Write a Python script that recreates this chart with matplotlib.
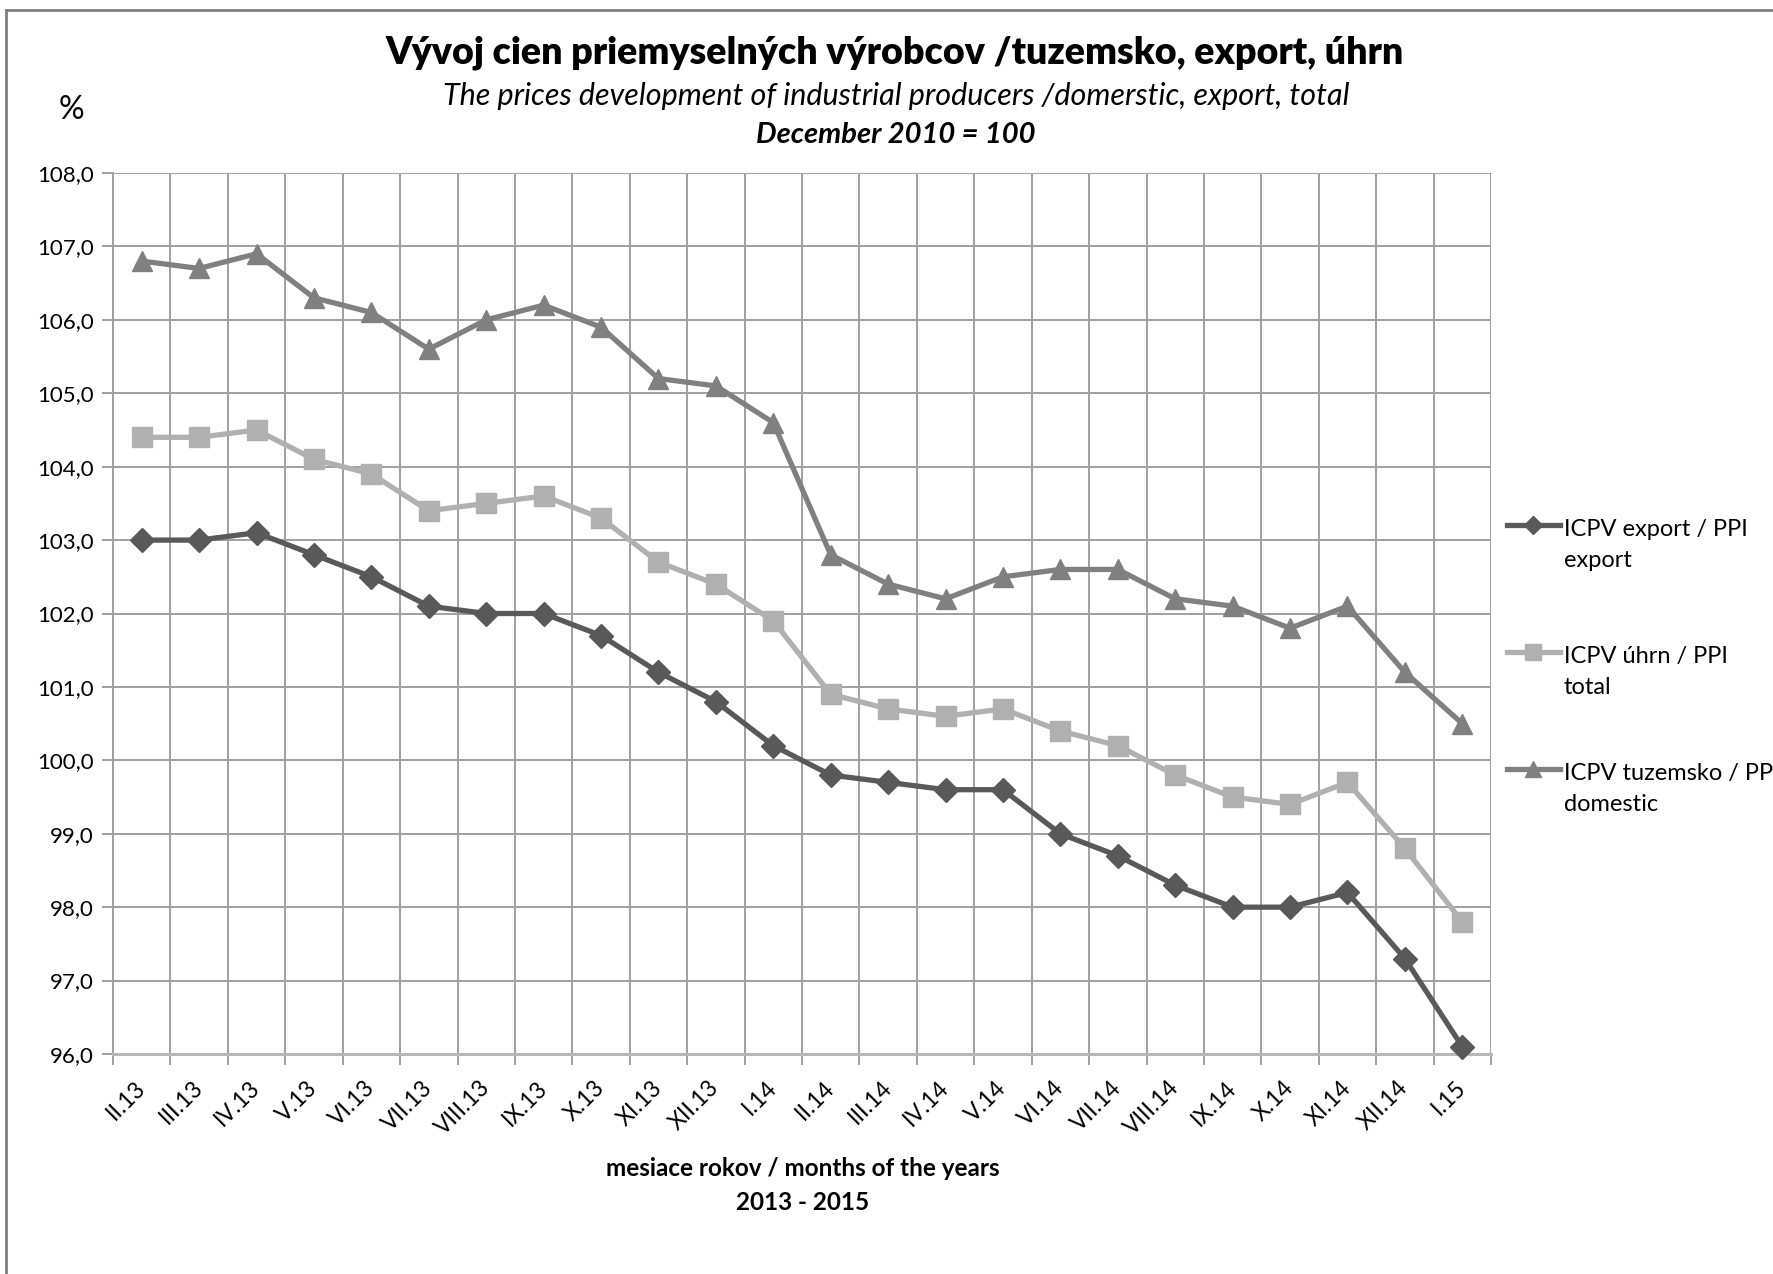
#!/usr/bin/env python3
"""Industrial producer prices, domestic / export / total (Dec 2010 = 100)."""

import matplotlib

matplotlib.use("Agg")
from matplotlib import pyplot as plt
from matplotlib.lines import Line2D
from matplotlib.ticker import FixedLocator, FuncFormatter

months = [
    "II.13", "III.13", "IV.13", "V.13", "VI.13", "VII.13", "VIII.13",
    "IX.13", "X.13", "XI.13", "XII.13", "I.14", "II.14", "III.14",
    "IV.14", "V.14", "VI.14", "VII.14", "VIII.14", "IX.14", "X.14",
    "XI.14", "XII.14", "I.15",
]
export = [
    103.0, 103.0, 103.1, 102.8, 102.5, 102.1, 102.0, 102.0, 101.7, 101.2,
    100.8, 100.2, 99.8, 99.7, 99.6, 99.6, 99.0, 98.7, 98.3, 98.0,
    98.0, 98.2, 97.3, 96.1,
]
total = [
    104.4, 104.4, 104.5, 104.1, 103.9, 103.4, 103.5, 103.6, 103.3, 102.7,
    102.4, 101.9, 100.9, 100.7, 100.6, 100.7, 100.4, 100.2, 99.8, 99.5,
    99.4, 99.7, 98.8, 97.8,
]
domestic = [
    106.8, 106.7, 106.9, 106.3, 106.1, 105.6, 106.0, 106.2, 105.9, 105.2,
    105.1, 104.6, 102.8, 102.4, 102.2, 102.5, 102.6, 102.6, 102.2, 102.1,
    101.8, 102.1, 101.2, 100.5,
]
series_labels = [
    "ICPV export / PPI\nexport",
    "ICPV úhrn / PPI\ntotal",
    "ICPV tuzemsko / PPI\ndomestic",
]

FONT = ["Lato", "DejaVu Sans"]
plt.rcParams["font.family"] = FONT

W, H = 1773, 1274
fig = plt.figure(figsize=(W / 100, H / 100), dpi=100)


def fx(px):
    return px / W


def fy(py):
    return 1 - py / H


ax = fig.add_axes([fx(113), fy(1054), fx(1491) - fx(113), fy(173) - fy(1054)])

styles = [
    (export, "#595959", "D", 12),
    (total, "#b0b0b0", "s", 14),
    (domestic, "#808080", "^", 15),
]
x = [i + 0.5 for i in range(len(months))]
for values, color, marker, size in styles:
    ax.plot(x, values, color=color, lw=3.8, marker=marker, ms=size,
            mec=color, mfc=color, zorder=3, clip_on=False)

ax.set_xlim(0, len(months))
ax.set_ylim(96, 108)
ax.yaxis.set_major_locator(FixedLocator(range(96, 109)))
ax.yaxis.set_major_formatter(FuncFormatter(lambda v, _: f"{v:.1f}".replace(".", ",")))
ax.xaxis.set_major_locator(FixedLocator(range(len(months) + 1)))
ax.xaxis.set_major_formatter(FuncFormatter(lambda v, _: ""))
ax.xaxis.set_minor_locator(FixedLocator(x))
ax.set_xticklabels(months, minor=True, rotation=45, ha="right", va="center",
                   rotation_mode="anchor", fontsize=16.5)
ax.tick_params(axis="x", which="minor", length=0, pad=22)
ax.tick_params(axis="x", which="major", length=8, width=1.4, color="#a0a0a0",
               direction="out")
ax.tick_params(axis="y", length=8, width=1.4, color="#a0a0a0", labelsize=16,
               pad=6)
ax.grid(True, which="major", color="#a0a0a0", lw=1.4)
for side in ("top", "right"):
    ax.spines[side].set_visible(False)
ax.spines["left"].set_color("#a0a0a0")
ax.spines["left"].set_linewidth(1.4)
ax.spines["bottom"].set_color("#b8b8b8")
ax.spines["bottom"].set_linewidth(2.2)

fig.text(fx(895), fy(53), "Vývoj cien priemyselných výrobcov /tuzemsko, export, úhrn",
         ha="center", va="center", fontsize=27, fontweight="heavy")
fig.text(fx(896), fy(96), "The prices development of industrial producers /domerstic, export, total",
         ha="center", va="center", fontsize=22, style="italic")
fig.text(fx(896), fy(135), "December 2010 = 100", ha="center", va="center",
         fontsize=21, style="italic", fontweight="bold")
fig.text(fx(71), fy(110), "%", ha="center", va="center", fontsize=23)
fig.text(fx(803), fy(1169), "mesiace rokov / months of the years", ha="center",
         va="center", fontsize=17.5, fontweight="bold")
fig.text(fx(803), fy(1202), "2013 - 2015", ha="center", va="center",
         fontsize=17.5, fontweight="bold")

legend_rows = [545, 672, 789]
for (values, color, marker, size), label, row in zip(styles, series_labels, legend_rows):
    fig.add_artist(Line2D([fx(1507), fx(1560)], [fy(row - 20)] * 2, color=color,
                          lw=3.8, transform=fig.transFigure))
    fig.add_artist(Line2D([fx(1533)], [fy(row - 20)], color=color, marker=marker,
                          ms=size * 0.8, mec=color, mfc=color,
                          transform=fig.transFigure))
    fig.text(fx(1564), fy(row), label, ha="left", va="center", fontsize=17,
             linespacing=1.6)

fig.add_artist(Line2D([fx(6), 1.0], [fy(10)] * 2, color="#808080", lw=2,
                      transform=fig.transFigure))
fig.add_artist(Line2D([fx(6)] * 2, [fy(10), 0.0], color="#808080", lw=2,
                      transform=fig.transFigure))

fig.savefig("out.png", dpi=100)
